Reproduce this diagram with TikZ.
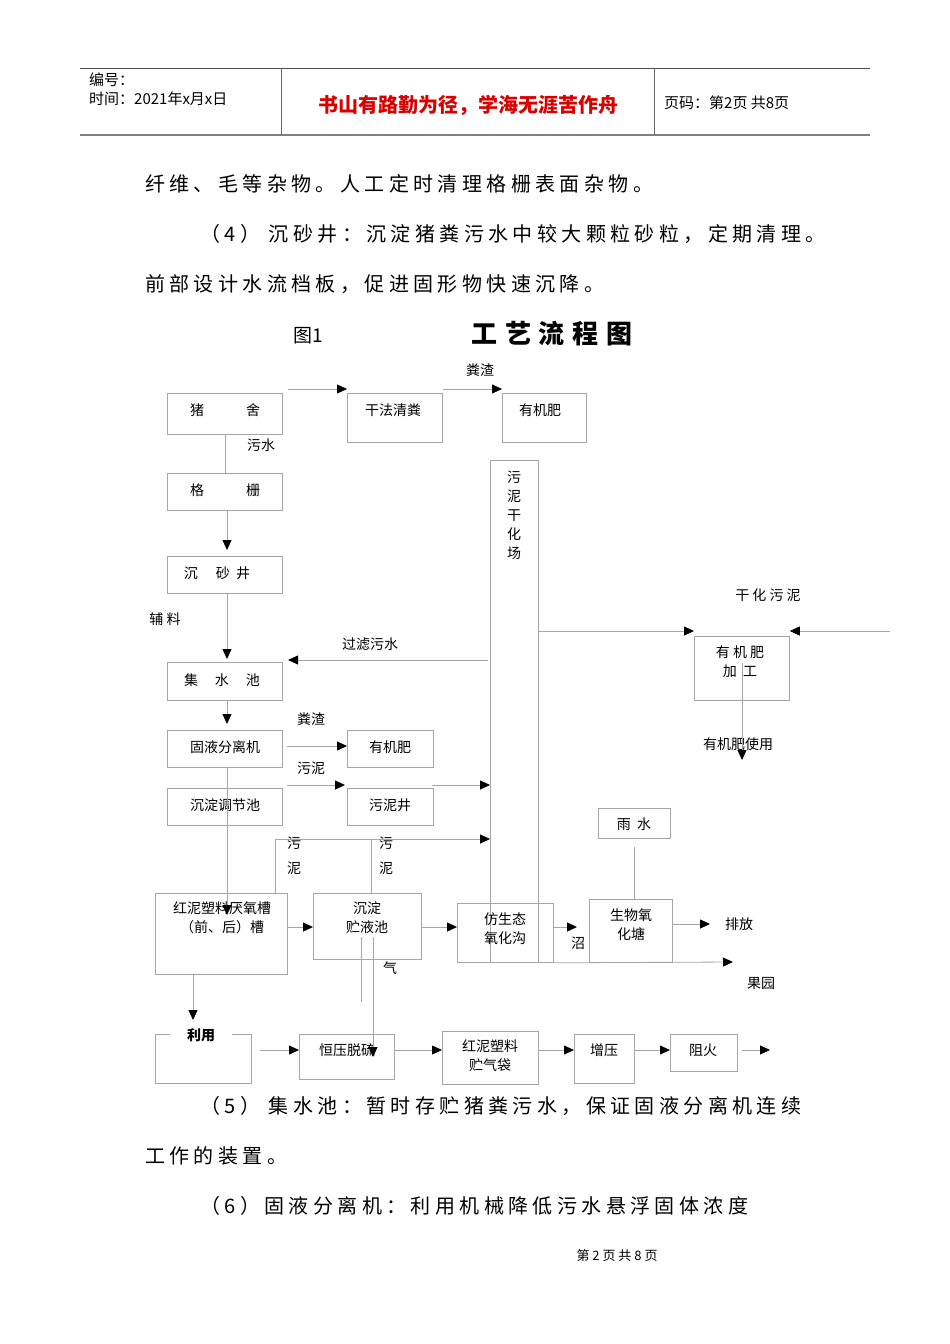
\documentclass[tikz,border=0pt]{standalone}
\usepackage{fontspec}
\setmainfont{Noto Sans CJK SC}
\usetikzlibrary{arrows.meta}
\tikzset{
 bx/.style={draw=black!35,line width=0.8pt,anchor=north west,inner sep=0pt},
 ln/.style={draw=black!35,line width=0.8pt},
 ar/.style={ln,-{Triangle[length=10pt,width=9pt,color=black]}},
 lb/.style={font=\fontsize{14}{16}\selectfont,inner sep=0pt},
 bt/.style={font=\fontsize{20}{24}\selectfont\addfontfeature{LetterSpace=22},inner sep=0pt,anchor=west},
 pt/.style={coordinate}
}
\begin{document}
\begin{tikzpicture}[x=1pt,y=-1pt]
\useasboundingbox[fill=white] (0,0) rectangle (950,1344);
% header
\draw[black!70,line width=1pt] (80,68) -- (870,68);
\draw[black!50,line width=1.5pt] (80,135) -- (870,135);
\draw[black!60,line width=0.8pt] (281,68) -- (281,135) (654,68) -- (654,135);
\node[anchor=west,inner sep=0pt,font=\fontsize{15}{17}\selectfont] (h1) at (89,80) {编号：};
\node[anchor=west,inner sep=0pt,font=\fontsize{15}{17}\selectfont] (h2) at (89,99) {时间：2021年x月x日};
\node[inner sep=0pt,text=red!85!black,font=\fontsize{20}{22}\selectfont\bfseries] (h3) at (468,105) {书山有路勤为径，学海无涯苦作舟};
\node[anchor=west,inner sep=0pt,font=\fontsize{15}{17}\selectfont] (h4) at (664,103) {页码：第2页 共8页};
% body text
\node[bt] (t1) at (145,184) {纤维、毛等杂物。人工定时清理格栅表面杂物。};
\node[bt] (t2) at (200,234) {（4） 沉砂井：沉淀猪粪污水中较大颗粒砂粒，定期清理。};
\node[bt] (t3) at (145,284) {前部设计水流档板，促进固形物快速沉降。};
\node[font=\fontsize{19}{20}\selectfont,inner sep=0pt] (fig) at (308,336) {图1};
\node[font=\fontsize{26}{28}\selectfont\bfseries\addfontfeature{LetterSpace=30},inner sep=0pt] (title) at (552,334) {工艺流程图};
\node[bt] (t4) at (200,1106) {（5） 集水池：暂时存贮猪粪污水，保证固液分离机连续};
\node[bt] (t5) at (145,1156) {工作的装置。};
\node[bt] (t6) at (200,1206) {（6）固液分离机：利用机械降低污水悬浮固体浓度};
\node[font=\fontsize{13}{14}\selectfont,inner sep=0pt] (foot) at (617,1256) {第 2 页 共 8 页};
% boxes
\node[bx,minimum width=115pt,minimum height=41pt] (zs) at (167,393) {};
\node[lb] at (225,410) {猪\hspace{3em}舍};
\node[bx,minimum width=95pt,minimum height=49pt] (gf) at (347,393) {};
\node[lb] at (393,410) {干法清粪};
\node[bx,minimum width=84pt,minimum height=49pt] (yj1) at (502,393) {};
\node[lb] at (540,410) {有机肥};
\node[bx,minimum width=48pt,minimum height=502pt] (gh) at (490,460) {};
\node[lb,align=center,font=\fontsize{14}{19}\selectfont] at (514,515) {污\\泥\\干\\化\\场};
\node[bx,minimum width=115pt,minimum height=37pt] (gs) at (167,473) {};
\node[lb] at (225,490) {格\hspace{3em}栅};
\node[bx,minimum width=115pt,minimum height=37pt] (csj) at (167,556) {};
\node[lb] at (217,573) {沉\hspace{1.3em}砂\ \ 井};
\node[bx,minimum width=115pt,minimum height=38pt] (jsc) at (167,662) {};
\node[lb] at (222,680) {集\hspace{1.2em}水\hspace{1.2em}池};
\node[bx,minimum width=115pt,minimum height=37pt] (gy) at (167,730) {};
\node[lb] at (225,747) {固液分离机};
\node[bx,minimum width=86pt,minimum height=37pt] (yj2) at (347,730) {};
\node[lb] at (390,747) {有机肥};
\node[bx,minimum width=115pt,minimum height=37pt] (cd) at (167,788) {};
\node[lb] at (225,805) {沉淀调节池};
\node[bx,minimum width=86pt,minimum height=37pt] (wnj) at (347,788) {};
\node[lb] at (390,805) {污泥井};
\node[bx,minimum width=132pt,minimum height=81pt] (yy) at (155,893) {};
\node[lb,align=center,font=\fontsize{14}{19}\selectfont] at (222,918) {红泥塑料厌氧槽\\（前、后）槽};
\node[bx,minimum width=108pt,minimum height=66pt] (cy) at (313,893) {};
\node[lb,align=center,font=\fontsize{14}{19}\selectfont] at (367,918) {沉淀\\贮液池};
\node[bx,minimum width=96pt,minimum height=59pt] (fs) at (457,903) {};
\node[lb,align=center,font=\fontsize{14}{19}\selectfont] at (505,929) {仿生态\\氧化沟};
\node[bx,minimum width=83pt,minimum height=63pt] (sw) at (589,899) {};
\node[lb,align=center,font=\fontsize{14}{19}\selectfont] at (631,925) {生物氧\\化塘};
\node[bx,minimum width=72pt,minimum height=30pt] (ys) at (598,808) {};
\node[lb] at (634,824) {雨\ \ 水};
\node[bx,minimum width=95pt,minimum height=64pt] (jg) at (694,636) {};
\node[lb,align=center,font=\fontsize{14}{19}\selectfont] at (740,662) {有\ 机\ 肥\\加\ \ 工};
\node[bx,minimum width=96pt,minimum height=49pt] (ly) at (155,1034) {};
\node[bx,minimum width=95pt,minimum height=45pt] (hy) at (299,1034) {};
\node[lb] at (347,1050) {恒压脱硫};
\node[bx,minimum width=96pt,minimum height=53pt] (qd) at (442,1031) {};
\node[lb,align=center,font=\fontsize{14}{19}\selectfont] at (490,1056) {红泥塑料\\贮气袋};
\node[bx,minimum width=60pt,minimum height=49pt] (zy) at (574,1034) {};
\node[lb] at (604,1050) {增压};
\node[bx,minimum width=67pt,minimum height=37pt] (zh) at (670,1034) {};
\node[lb] at (703,1050) {阻火};
\fill[white] (170,1028) rectangle (232,1044);
\node[lb,font=\fontsize{14}{15}\selectfont\bfseries] at (201,1035) {利用};
% labels
\node[lb] at (480,370) {粪渣};
\node[lb] at (261,445) {污水};
\node[lb] at (165,619) {辅\ 料};
\node[lb] at (370,644) {过滤污水};
\node[lb] at (311,719) {粪渣};
\node[lb] at (311,768) {污泥};
\node[lb,align=center,font=\fontsize{14}{25}\selectfont] at (294,856) {污\\泥};
\node[lb,align=center,font=\fontsize{14}{25}\selectfont] at (386,856) {污\\泥};
\node[lb] at (390,968) {气};
\node[lb] at (578,943) {沼};
\node[lb] at (739,924) {排放};
\node[lb] at (761,983) {果园};
\node[lb] at (768,595) {干\ 化\ 污\ 泥};
\node[lb] at (738,744) {有机肥使用};
% connectors
\coordinate (a1) at (288,389); \coordinate (a2) at (347,389);
\draw[ar] (a1) -- (a2);
\coordinate (a3) at (443,389); \coordinate (a4) at (502,389);
\draw[ar] (a3) -- (a4);
\draw[ln] (zs.south -| 225,0) -- (gs.north -| 225,0);
\draw[ar] (gs.south -| 227,0) -- (227,550);
\draw[ar] (csj.south -| 227,0) -- (227,659);
\coordinate (b1) at (488,660);
\draw[ar] (b1) -- (288,660);
\draw[ar] (jsc.south -| 227,0) -- (227,724);
\draw[ar] (287,746) -- (yj2.west |- 0,746);
\draw[ar] (287,785) -- (345,785);
\draw[ar] (432,785) -- (gh.west |- 0,785);
\draw[ar] (227,767) -- (227,915);
\draw[ar] (275,893) -- (275,839) -- (gh.west |- 0,839);
\draw[ln] (371,893) -- (371,839);
\draw[ar] (yy.east |- 0,927) -- (cy.west |- 0,927);
\draw[ar] (cy.east |- 0,927) -- (fs.west |- 0,927);
\draw[ar] (fs.east |- 0,927) -- (577,927);
\draw[ar] (sw.east |- 0,924) -- (710,924);
\draw[ar] (fs.south east) -- (733,962);
\draw[ln] (ys.south -| 634,0) ++(0,8) -- (sw.north -| 634,0);
\draw[ar] (gh.east |- 0,631) -- (jg.west |- 0,631);
\coordinate (c1) at (890,631);
\draw[ar] (c1) -- (jg.east |- 0,631);
\draw[ar] (742,663) -- (742,760);
\draw[ar] (193,974) -- (193,1020);
\draw[ar] (260,1050) -- (hy.west |- 0,1050);
\draw[ln] (361,937) -- (361,1002);
\draw[ar] (373,937) -- (373,1057);
\draw[ar] (hy.east |- 0,1050) -- (qd.west |- 0,1050);
\draw[ar] (qd.east |- 0,1050) -- (zy.west |- 0,1050);
\draw[ar] (zy.east |- 0,1050) -- (zh.west |- 0,1050);
\draw[ar] (742,1050) -- (770,1050);
\end{tikzpicture}
\end{document}
